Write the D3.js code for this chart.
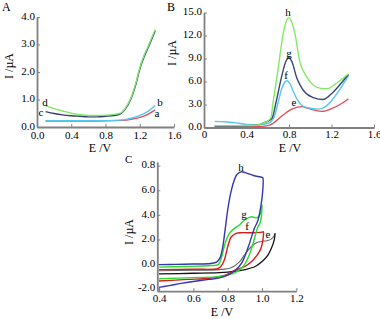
<!DOCTYPE html>
<html><head><meta charset="utf-8">
<script src="https://cdn.jsdelivr.net/npm/d3@7"></script>
<style>
html,body{margin:0;padding:0;background:#fff;}
svg text{font-family:"Liberation Serif","DejaVu Serif",serif;fill:#000;}
</style></head>
<body><svg id="c" width="380" height="319"></svg>
<script>
// ---------- Panel A data (E /V, I /µA) ----------
const aXTicks = [0, 0.4, 0.8, 1.2, 1.6];
const aXLabels = ["0.0", "0.4", "0.8", "1.2", "1.6"];
const aYTicks = [0, 1, 2, 3, 4];
const aYLabels = ["0.0", "1.0", "2.0", "3.0", "4.0"];
const A_a = [[0.1,0.22],[0.3,0.22],[0.5,0.22],[0.7,0.22],[0.9,0.23],[1.0,0.24],[1.1,0.28],[1.2,0.35],[1.3,0.47],[1.38,0.62]];
const A_b = [[0.1,0.23],[0.3,0.23],[0.5,0.23],[0.7,0.23],[0.9,0.24],[1.0,0.26],[1.1,0.32],[1.2,0.42],[1.3,0.58],[1.38,0.78]];
const A_c = [[0.1,0.56],[0.2,0.49],[0.3,0.44],[0.4,0.41],[0.5,0.39],[0.6,0.37],[0.7,0.37],[0.8,0.39],[0.9,0.42],[0.97,0.47],[1.03,0.65],[1.1,1.05],[1.15,1.5],[1.2,2.1],[1.25,2.55],[1.3,2.9],[1.38,3.5]];
const A_d = [[0.1,0.77],[0.2,0.67],[0.3,0.58],[0.4,0.5],[0.5,0.45],[0.6,0.42],[0.7,0.42],[0.8,0.43],[0.9,0.46],[0.97,0.5],[1.03,0.68],[1.1,1.08],[1.15,1.55],[1.2,2.15],[1.25,2.6],[1.3,2.95],[1.38,3.55]];

// ---------- Panel B data ----------
const bXTicks = [0, 0.4, 0.8, 1.2, 1.6];
const bXLabels = ["0", "0.4", "0.8", "1.2", "1.6"];
const bYTicks = [0, 3, 6, 9, 12, 15];
const bYLabels = ["0.0", "3.0", "6.0", "9.0", "12.0", "15.0"];
const B_e = [[0.1,0.05],[0.3,0.05],[0.5,0.1],[0.6,0.25],[0.65,0.55],[0.7,1.1],[0.76,1.8],[0.82,2.35],[0.88,2.65],[0.92,2.72],[0.97,2.55],[1.03,2.3],[1.11,2.1],[1.2,2.45],[1.28,3.0],[1.36,3.75]];
const B_f = [[0.1,0.8],[0.2,0.75],[0.3,0.6],[0.4,0.4],[0.5,0.35],[0.58,0.45],[0.63,0.75],[0.67,1.8],[0.7,3.4],[0.73,5.0],[0.76,5.9],[0.78,6.1],[0.81,5.7],[0.84,4.7],[0.88,3.6],[0.92,2.9],[0.98,2.55],[1.08,2.4],[1.14,2.7],[1.2,3.5],[1.28,5.0],[1.36,6.8]];
const B_g = [[0.1,0.2],[0.3,0.2],[0.5,0.3],[0.56,0.6],[0.6,0.8],[0.64,1.2],[0.68,3.4],[0.73,6.6],[0.77,8.6],[0.8,9.1],[0.83,8.5],[0.87,6.6],[0.91,5.4],[0.95,4.6],[1.03,3.9],[1.12,3.65],[1.2,4.4],[1.28,5.6],[1.36,6.95]];
const B_h = [[0.1,0.25],[0.3,0.25],[0.5,0.3],[0.56,0.6],[0.6,0.85],[0.63,1.3],[0.65,3.2],[0.7,7.9],[0.745,12.2],[0.775,13.9],[0.8,14.3],[0.825,13.8],[0.856,12.2],[0.9,8.7],[0.967,6.6],[1.03,5.5],[1.1,5.1],[1.155,5.05],[1.25,5.8],[1.36,7.0]];

// ---------- Panel C data ----------
const cXTicks = [0.4, 0.6, 0.8, 1.0, 1.2];
const cXLabels = ["0.4", "0.6", "0.8", "1.0", "1.2"];
const cYTicks = [-2, 0, 2, 4, 6, 8];
const cYLabels = ["-2.0", "0.0", "2.0", "4.0", "6.0", "0.8"];
const C_h = [[0.4,-0.05],[0.5,-0.03],[0.6,0.0],[0.7,0.05],[0.735,0.15],[0.755,0.5],[0.77,1.3],[0.785,2.8],[0.8,4.4],[0.815,5.6],[0.835,6.7],[0.855,7.3],[0.878,7.5],[0.91,7.4],[0.95,7.2],[1.0,7.05],[1.005,7.0],
             [1.003,5.8],[0.994,4.8],[0.975,3.5],[0.955,2.9],[0.92,1.4],[0.88,0.05],[0.845,-0.5],[0.8,-0.9],[0.745,-1.15],[0.69,-1.25],[0.6,-1.42],[0.53,-1.57],[0.46,-1.75],[0.4,-1.9]];
const C_g = [[0.4,-0.25],[0.55,-0.2],[0.7,-0.12],[0.745,-0.05],[0.765,0.6],[0.785,1.7],[0.81,2.5],[0.84,2.9],[0.87,3.2],[0.9,3.6],[0.94,3.85],[0.97,3.75],[0.99,4.1],[1.0,4.8],
             [0.99,3.4],[0.975,3.0],[0.958,2.2],[0.93,0.9],[0.89,-0.2],[0.843,-0.7],[0.765,-1.0],[0.6,-1.1],[0.4,-1.2]];
const C_f = [[0.4,-0.45],[0.6,-0.42],[0.74,-0.38],[0.76,-0.2],[0.78,0.3],[0.8,1.4],[0.82,2.2],[0.85,2.5],[0.88,2.55],[0.95,2.55],[1.0,2.6],[1.008,2.63],
             [1.007,2.2],[1.0,1.6],[0.99,1.15],[0.95,0.35],[0.9,-0.2],[0.843,-0.5],[0.785,-0.9],[0.69,-1.15],[0.57,-1.25],[0.4,-1.38]];
const C_eFwd = [[0.4,-0.55],[0.6,-0.5],[0.75,-0.45],[0.82,-0.3],[0.87,0.2],[0.9,0.8],[0.94,1.45],[0.97,1.75],[1.0,1.85],[1.03,1.9],[1.055,2.05],[1.07,2.3],[1.076,2.5]];
const C_eRev = [[1.076,2.5],[1.07,1.9],[1.055,1.3],[1.035,0.75],[1.0,0.2],[0.96,-0.2],[0.9,-0.45],[0.84,-0.6],[0.75,-0.7],[0.6,-0.75],[0.4,-0.8]];

const svg = d3.select("#c");
const axisColor = "#808080";

function panel(cfg){
  const g = svg.append("g");
  const x = d3.scaleLinear(cfg.xd, cfg.xr);
  const y = d3.scaleLinear(cfg.yd, cfg.yr);
  const xa = d3.axisBottom(x).tickValues(cfg.xt).tickFormat((d,i)=>cfg.xl[i]).tickSizeInner(-3).tickSizeOuter(0).tickPadding(cfg.xpad||3);
  const ya = d3.axisLeft(y).tickValues(cfg.yt).tickFormat((d,i)=>cfg.yl[i]).tickSizeInner(-3).tickSizeOuter(0).tickPadding(2);
  const gx = g.append("g").attr("transform",`translate(0,${cfg.yr[0]})`).call(xa);
  const gy = g.append("g").attr("transform",`translate(${cfg.xr[0]},0)`).call(ya);
  [gx,gy].forEach(a=>{
    a.select(".domain").attr("stroke",axisColor).attr("stroke-width",1.8);
    a.selectAll(".tick line").attr("stroke",axisColor).attr("stroke-width",1);
    a.selectAll("text").attr("font-size",11).attr("fill","#000").style("font-family",'"Liberation Serif",serif');
  });
  gy.selectAll("text").attr("dy","0.2em");
  const line = d3.line().x(d=>x(d[0])).y(d=>y(d[1])).curve(cfg.curve);
  cfg.series.forEach(s=>{
    g.append("path").attr("d",line(s.data)).attr("fill","none").attr("stroke",s.color).attr("stroke-width",s.w||1.4).attr("stroke-linejoin","round");
  });
  cfg.labels.forEach(l=>{
    g.append("text").attr("x",l[1]).attr("y",l[2]).attr("dy","0.35em").attr("text-anchor","middle").attr("font-size",11).text(l[0]);
  });
  g.append("text").attr("x",cfg.xt0[0]).attr("y",cfg.xt0[1]).attr("text-anchor","middle").attr("font-size",12).text("E /V");
  g.append("text").attr("transform",`translate(${cfg.yt0[0]},${cfg.yt0[1]}) rotate(-90)`).attr("text-anchor","middle").attr("font-size",12).text("I /µA");
  g.append("text").attr("x",cfg.letter[1]).attr("y",cfg.letter[2]).attr("font-size",cfg.letter[3]).text(cfg.letter[0]);
}

panel({
  xd:[0,1.6], xr:[37,174], yd:[0,4], yr:[127,17], xpad:4,
  xt:aXTicks, xl:aXLabels, yt:aYTicks, yl:aYLabels, curve:d3.curveMonotoneX,
  series:[{data:A_a,color:"#e0505a"},{data:A_b,color:"#55c8f0"},{data:A_c,color:"#34406e"},{data:A_d,color:"#7ee86a"}],
  labels:[["d",45,102],["c",41,112],["b",160,102],["a",157,113]],
  xt0:[100,152], yt0:[13,66], letter:["A",2,11,12]
});
panel({
  xd:[0,1.6], xr:[204,374], yd:[0,15], yr:[127.5,12.5],
  xt:bXTicks, xl:bXLabels, yt:bYTicks, yl:bYLabels, curve:d3.curveMonotoneX,
  series:[{data:B_e,color:"#e0505a"},{data:B_f,color:"#55c8f0"},{data:B_g,color:"#3a4676"},{data:B_h,color:"#80ea66"}],
  labels:[["h",288,12],["g",289,53],["f",286,75],["e",294,102]],
  xt0:[290,152], yt0:[176,53], letter:["B",167,11,12]
});
panel({
  xd:[0.39,1.2], xr:[157.3,296.4], yd:[-2.2,8.3], yr:[291.1,162],
  xt:cXTicks, xl:cXLabels, yt:cYTicks, yl:cYLabels, curve:d3.curveCatmullRom.alpha(0.5),
  series:[{data:C_eFwd,color:"#666666",w:1.1},{data:C_eRev,color:"#111111",w:1.3},{data:C_f,color:"#dd1a1a"},{data:C_g,color:"#28dd28"},{data:C_h,color:"#3535b0"}],
  labels:[["h",241,167],["g",244,214],["f",247,226],["e",268,234]],
  xt0:[222,316], yt0:[133,232], letter:["C",125,163,11]
});
</script></body></html>
